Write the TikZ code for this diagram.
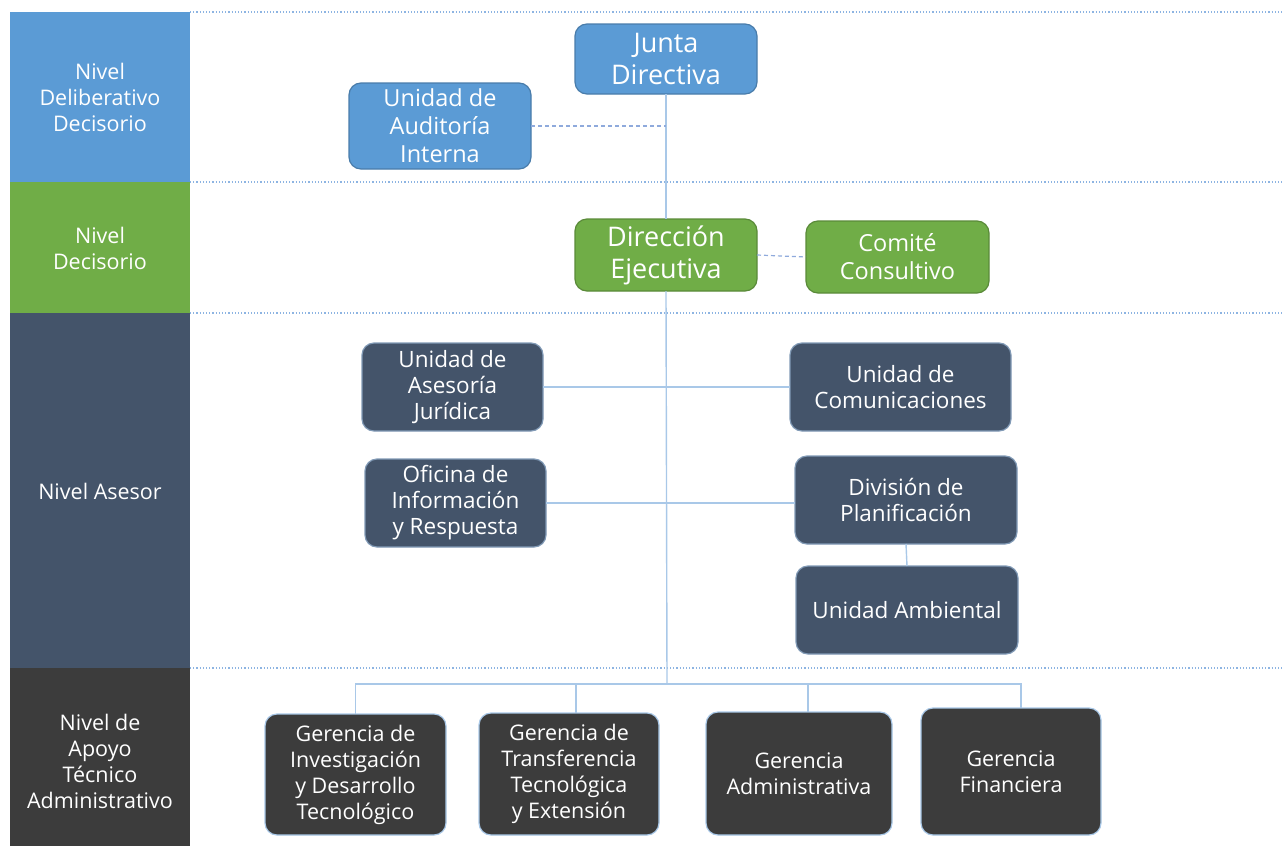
\documentclass[tikz,border=0pt]{standalone}
\usepackage{fontspec}
\setmainfont{Open Sans}
\definecolor{bandblue}{HTML}{5B9BD5}
\definecolor{bandgreen}{HTML}{70AD47}
\definecolor{bandslate}{HTML}{44546A}
\definecolor{bandgrey}{HTML}{3C3C3C}
\definecolor{linkblue}{HTML}{A9C8E8}
\definecolor{dotblue}{HTML}{8DB4E2}
\definecolor{dashblue}{HTML}{8FAADC}
\tikzset{
  box/.style={rounded corners=12pt, align=center, text=white, inner sep=0pt, outer sep=0pt, line width=1.2pt},
  bluebox/.style={box, fill=bandblue, draw=bandblue!80!black},
  greenbox/.style={box, fill=bandgreen, draw=bandgreen!80!black},
  slatebox/.style={box, fill=bandslate, draw=linkblue!60!bandslate},
  greybox/.style={box, fill=bandgrey, draw=linkblue},
  band/.style={align=center, text=white, inner sep=0pt, outer sep=0pt, font=\fontsize{21.5}{26}\selectfont},
  sep/.style={dotblue, line width=1.2pt, dotted},
  link/.style={linkblue, line width=1.4pt},
  dlink/.style={dashblue, line width=1.2pt, dash pattern=on 4pt off 3pt},
  bigtxt/.style={font=\fontsize{27}{32}\selectfont},
  midtxt/.style={font=\fontsize{23.5}{28}\selectfont},
  smtxt/.style={font=\fontsize{22.5}{26}\selectfont},
  gtxt/.style={font=\fontsize{21.5}{26}\selectfont}
}
\begin{document}
\begin{tikzpicture}[x=1pt,y=-1pt]
\useasboundingbox (0,0) rectangle (1283,846);
% left bands
\fill[bandblue] (10,12) rectangle (190,182);
\fill[bandgreen] (10,182) rectangle (190,313);
\fill[bandslate] (10,313) rectangle (190,668);
\fill[bandgrey] (10,668) rectangle (190,846);
\node[band] (l1) at (100,97) {Nivel\\Deliberativo\\Decisorio};
\node[band] (l2) at (100,248) {Nivel\\Decisorio};
\node[band] (l3) at (100,491) {Nivel Asesor};
\node[band] (l4) at (100,761) {Nivel de\\Apoyo\\Técnico\\Administrativo};
% separators
\draw[sep] (190,12) -- (1283,12);
\draw[sep] (190,182) -- (1283,182);
\draw[sep] (190,313) -- (1283,313);
\draw[sep] (190,668) -- (1283,668);
% nodes
\node[bluebox, bigtxt, minimum width=182pt, minimum height=70pt] (junta) at (666,59) {Junta\\Directiva};
\node[bluebox, midtxt, minimum width=182pt, minimum height=86pt] (audit) at (440,126) {Unidad de\\Auditoría\\Interna};
\node[greenbox, bigtxt, minimum width=182pt, minimum height=72pt] (dir) at (666,255) {Dirección\\Ejecutiva};
\node[greenbox, midtxt, minimum width=183pt, minimum height=72pt] (comite) at (897.5,257) {Comité\\Consultivo};
\node[slatebox, smtxt, minimum width=181pt, minimum height=88pt] (jur) at (452.5,387) {Unidad de\\Asesoría\\Jurídica};
\node[slatebox, smtxt, minimum width=221pt, minimum height=88pt] (com) at (900.5,387) {Unidad de\\Comunicaciones};
\node[slatebox, smtxt, minimum width=181pt, minimum height=88pt] (ofi) at (455.5,503) {Oficina de\\Información\\y Respuesta};
\node[slatebox, smtxt, minimum width=222pt, minimum height=88pt] (plan) at (906,500) {División de\\Planificación};
\node[slatebox, smtxt, minimum width=222pt, minimum height=88pt] (amb) at (907,610) {Unidad Ambiental};
\node[greybox, gtxt, minimum width=181pt, minimum height=121pt] (g1) at (355.5,774.5) {Gerencia de\\Investigación\\y Desarrollo\\Tecnológico};
\node[greybox, gtxt, minimum width=180pt, minimum height=122pt] (g2) at (569,774) {Gerencia de\\Transferencia\\Tecnológica\\y Extensión};
\node[greybox, gtxt, minimum width=186pt, minimum height=123pt] (g3) at (799,773.5) {Gerencia\\Administrativa};
\node[greybox, gtxt, minimum width=180pt, minimum height=127pt] (g4) at (1011,771.5) {Gerencia\\Financiera};
% connectors
\coordinate (bus) at (667,684);
\coordinate (d2) at ([xshift=7pt]g2.north);
\coordinate (d3) at ([xshift=9pt]g3.north);
\coordinate (d4) at ([xshift=10pt]g4.north);
\draw[link] (junta.south) -- (dir.north);
\draw[link] (dir.south) -- (bus);
\draw[dlink] (audit.east) -- (audit.east -| junta.south);
\draw[dlink] (dir.east) -- (comite.west);
\draw[link] (jur.east) -- (jur.east -| com.west);
\draw[link] (ofi.east) -- (ofi.east -| plan.west);
\draw[link] (plan.south) -- (amb.north);
\draw[link] (g1.north) |- (bus) -| (d4);
\draw[link] (d2) -- (d2 |- bus);
\draw[link] (d3) -- (d3 |- bus);
\end{tikzpicture}
\end{document}
